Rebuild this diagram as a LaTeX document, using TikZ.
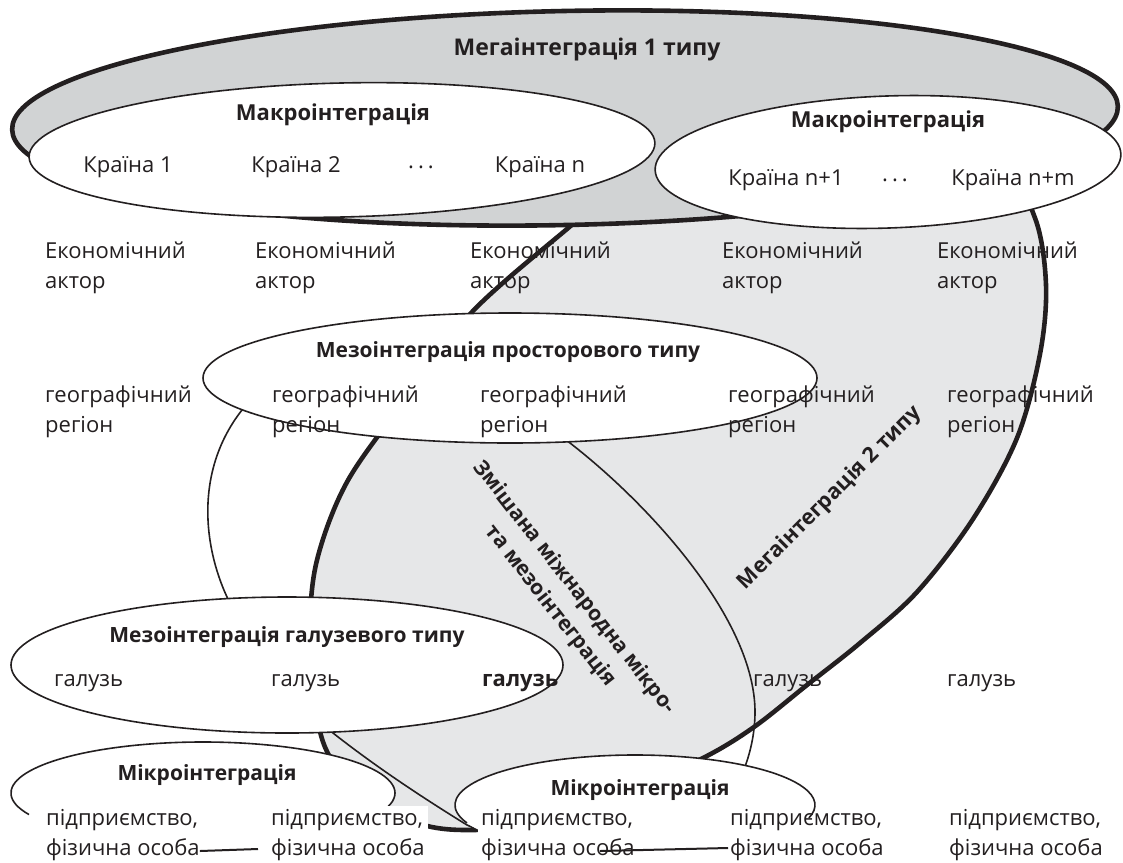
\documentclass[tikz,border=0pt]{standalone}
\usepackage{fontspec}
\setmainfont{Open Sans}
\definecolor{megaA}{HTML}{D1D3D4}
\definecolor{megaB}{HTML}{E6E7E8}
\definecolor{ink}{HTML}{231F20}
\begin{document}
\begin{tikzpicture}[x=1pt,y=-1pt,
  txt/.style={font=\fontsize{22}{30}\selectfont, text=ink, inner sep=0pt, align=left, anchor=west},
  btxt/.style={txt, font=\fontsize{22}{30}\selectfont\bfseries},
  ttl/.style={font=\fontsize{21}{26}\selectfont\bfseries, text=ink, inner sep=0pt},
  ctry/.style={font=\fontsize{22}{26}\selectfont, text=ink, inner sep=0pt},
  thinline/.style={line width=1.6pt, draw=ink},
  thickline/.style={line width=4.6pt, draw=ink, line join=round},
  conn/.style={line width=2pt, draw=ink},
  whitebox/.style={fill=white, inner sep=3pt},
]
\useasboundingbox (0,0) rectangle (1123,862);
% Megaintegration type 2 (crescent)
\draw[thickline, fill=megaB] plot[smooth cycle, tension=0.55] coordinates {
  (700,150) (610,195) (567,229) (472,312) (405,400) (347,482) (317,560) (310,630)
  (316,710) (330,757) (370,800) (420,824) (467,830) (540,824) (620,795) (703,758)
  (754,727) (807,685) (860,643) (917,592) (973,519) (1017,438) (1040,354) (1046,285)
  (1035,218) (1000,165) (900,140)};
% Megaintegration type 1
\draw[thickline, fill=megaA, rotate around={1.2:(565,118)}] (565,118) ellipse [x radius=553, y radius=107];
% mixed micro/meso integration
\draw[thinline] (570,443) .. controls (650,505) and (755,620) .. (755,712)
  .. controls (755,760) and (730,815) .. (690,835)
  .. controls (640,860) and (520,850) .. (467,825)
  .. controls (420,796) and (375,766) .. (333,733)
  .. controls (280,690) and (240,640) .. (227,597)
  .. controls (203,545) and (195,470) .. (242,410)
  .. controls (272,372) and (523,406) .. cycle;
% macro
\draw[thinline, fill=white, rotate around={1.3:(342,150)}] (342,150) ellipse [x radius=313, y radius=67];
\draw[thinline, fill=white, rotate around={2:(888,162)}] (888,162) ellipse [x radius=233, y radius=66];
% meso
\draw[thinline, fill=white] (510,378) ellipse [x radius=307, y radius=65];
\draw[thinline, fill=white] (287,665) ellipse [x radius=276, y radius=68];
% micro
\fill[white] (203,793) ellipse [x radius=192, y radius=51];
\draw[thinline] (203,793) ++(155:192 and 51) arc[start angle=155, end angle=385, x radius=192, y radius=51];
\fill[white] (635,805) ellipse [x radius=180, y radius=50];
\draw[thinline] (635,805) ++(159:180 and 50) arc[start angle=159, end angle=375, x radius=180, y radius=50];

% titles
\node[ttl, font=\fontsize{23}{26}\selectfont\bfseries] (t1) at (587,50) {Мегаінтеграція 1 типу};
\node[ttl, font=\fontsize{22}{26}\selectfont\bfseries] (tm1) at (333,115) {Макроінтеграція};
\node[ttl, font=\fontsize{22}{26}\selectfont\bfseries] (tm2) at (888,122) {Макроінтеграція};
\node[ctry] (c1) at (128,167) {Країна 1};
\node[ctry] (c2) at (296,167) {Країна 2};
\node[ctry] (c3) at (421,167) {.\hspace{4pt}.\hspace{4pt}.};
\node[ctry] (c4) at (540,167) {Країна n};
\node[ctry] (c5) at (786,180) {Країна n+1};
\node[ctry] (c6) at (895,180) {.\hspace{4pt}.\hspace{4pt}.};
\node[ctry] (c7) at (1013,180) {Країна n+m};
\node[ttl] (tp) at (508,352) {Мезоінтеграція просторового типу};
\node[ttl] (tg) at (287,637) {Мезоінтеграція галузевого типу};
\node[ttl] (tmi1) at (207,775) {Мікроінтеграція};
\node[ttl] (tmi2) at (640,790) {Мікроінтеграція};
\node[ttl, rotate=45, font=\fontsize{21.5}{26}\selectfont\bfseries] (t2) at (830,498) {Мегаінтеграція 2 типу};
\node[ttl, rotate=-52, align=center, font=\fontsize{21}{30}\selectfont\bfseries] (tmix) at (562,597) {Змішана міжнародна мікро-\\та мезоінтеграція};

% economic actors
\node[txt] (e1) at (45,268) {Економічний\\актор};
\node[txt] (e2) at (255,268) {Економічний\\актор};
\node[txt] (e3) at (470,268) {Економічний\\актор};
\node[txt] (e4) at (722,268) {Економічний\\актор};
\node[txt] (e5) at (937,268) {Економічний\\актор};
% regions
\node[txt] (g1) at (45,412) {географічний\\регіон};
\node[txt] (g2) at (272,412) {географічний\\регіон};
\node[txt] (g3) at (480,412) {географічний\\регіон};
\node[txt] (g4) at (728,412) {географічний\\регіон};
\node[txt] (g5) at (947,412) {географічний\\регіон};
% branches
\node[txt] (b1) at (54,683) {галузь};
\node[txt] (b2) at (271,683) {галузь};
\node[btxt] (b3) at (482,683) {галузь};
\node[txt] (b4) at (753,683) {галузь};
\node[txt] (b5) at (947,683) {галузь};
% enterprises
\node[txt] (p1) at (46,835) {підприємство,\\фізична особа};
\node[txt, whitebox] (p2) at (268,835) {підприємство,\\фізична особа};
\node[txt, whitebox] (p3) at (478,835) {підприємство,\\фізична особа};
\node[txt] (p4) at (730,835) {підприємство,\\фізична особа};
\node[txt] (p5) at (949,835) {підприємство,\\фізична особа};

\draw[conn] ([yshift=-16pt]p1.east) -- ([yshift=-14pt, xshift=-10pt]p2.west);
\draw[conn] ([yshift=-16pt, xshift=-38pt]p3.east) -- ([yshift=-13pt, xshift=-2pt]p4.west);
\end{tikzpicture}
\end{document}
